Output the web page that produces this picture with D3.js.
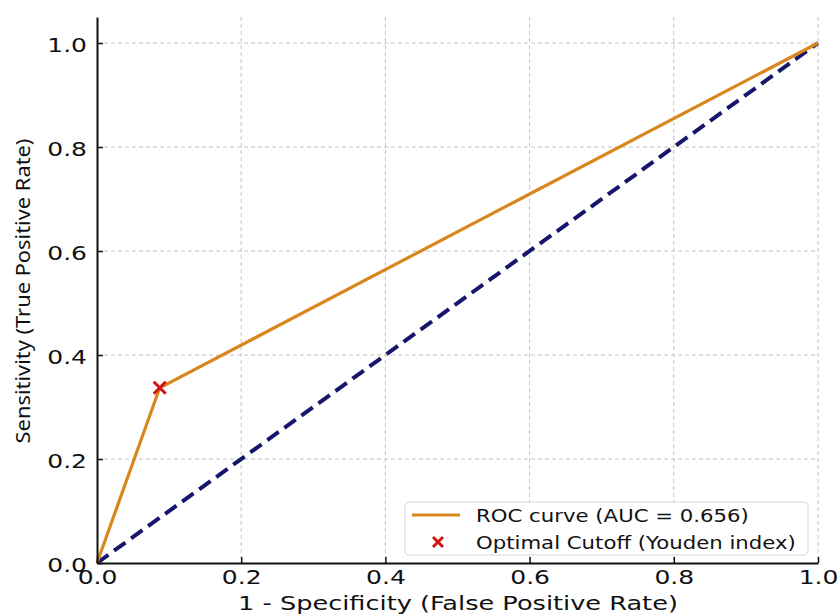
<!DOCTYPE html>
<meta charset="utf-8">
<style>
body {
    margin: 0;
    padding: 0;
    background: #fff;
}
.tick text {
    font-family: "DejaVu Sans", sans-serif;
    font-size: 20px;
    fill: #111;
}
.grid line {
    stroke: #c4c4c4;
    stroke-width: 1;
    stroke-dasharray: 4,3;
}
</style>
<body>
<svg width="840" height="615"></svg>
<script src="https://cdn.jsdelivr.net/npm/d3@7"></script>
<script>
// ROC points
var fpr = [0.0, 0.087, 1.0];
var tpr = [0.0, 0.337, 1.0];
var chance = [0, 1];
var cutoff = {x: 0.087, y: 0.337};
var ticks = [0.0, 0.2, 0.4, 0.6, 0.8, 1.0];
var legendLabels = ["ROC curve (AUC = 0.656)", "Optimal Cutoff (Youden index)"];

var ORANGE = "#d9871c",
    NAVY = "#16166c",
    RED = "#d01515";

var svg = d3.select("svg");
var mLeft = 97, mRight = 818, mTop = 17, mBottom = 563;

var x = d3.scaleLinear().domain([0, 1]).range([mLeft, mRight]);
var y = d3.scaleLinear().domain([0, 1.05]).range([mBottom, mTop]);

// the source picture is stretched sideways, so widen the texts to match
function stretch(sel, factor) {
    sel.each(function() {
        var w = this.getComputedTextLength();
        d3.select(this)
            .attr("textLength", w * factor)
            .attr("lengthAdjust", "spacingAndGlyphs");
    });
}

// grid
var grid = svg.append("g").attr("class", "grid");
grid.selectAll("line.v").data(ticks.slice(1)).enter().append("line")
    .attr("class", "v")
    .attr("x1", d => x(d)).attr("x2", d => x(d))
    .attr("y1", mTop).attr("y2", mBottom);
grid.selectAll("line.h").data(ticks.slice(1)).enter().append("line")
    .attr("class", "h")
    .attr("x1", mLeft).attr("x2", mRight)
    .attr("y1", d => y(d)).attr("y2", d => y(d));

// chance diagonal
svg.append("line")
    .attr("x1", x(chance[0])).attr("y1", y(chance[0]))
    .attr("x2", x(chance[1])).attr("y2", y(chance[1]))
    .attr("stroke", NAVY)
    .attr("stroke-width", 4)
    .attr("stroke-dasharray", "14,7");

// roc curve
var line = d3.line().x(d => x(d[0])).y(d => y(d[1]));
svg.append("path")
    .datum(fpr.map((f, i) => [f, tpr[i]]))
    .attr("d", line)
    .attr("fill", "none")
    .attr("stroke", ORANGE)
    .attr("stroke-width", 3.2);

function cross(g, cx, cy, s) {
    g.append("path")
        .attr("d", "M" + (cx - s) + "," + (cy - s) + "L" + (cx + s) + "," + (cy + s) +
                   "M" + (cx - s) + "," + (cy + s) + "L" + (cx + s) + "," + (cy - s))
        .attr("stroke", RED)
        .attr("stroke-width", 3);
}
cross(svg, x(cutoff.x), y(cutoff.y), 6);

// axes (ticks point inward)
var xAxis = svg.append("g")
    .attr("transform", "translate(0," + mBottom + ")")
    .call(d3.axisBottom(x).tickValues(ticks).tickFormat(d3.format(".1f"))
        .tickSizeInner(-6).tickSizeOuter(0).tickPadding(7));
var yAxis = svg.append("g")
    .attr("transform", "translate(" + mLeft + ",0)")
    .call(d3.axisLeft(y).tickValues(ticks).tickFormat(d3.format(".1f"))
        .tickSizeInner(-6).tickSizeOuter(0).tickPadding(10));
svg.selectAll(".domain").attr("stroke", "#111").attr("stroke-width", 2);
svg.selectAll(".tick line").attr("stroke", "#111").attr("stroke-width", 1.5);
stretch(svg.selectAll(".tick text"), 1.25);
yAxis.selectAll(".tick text").attr("dy", "0.4em");

// axis labels
var xLabel = svg.append("text")
    .attr("x", 458)
    .attr("y", 610)
    .attr("text-anchor", "middle")
    .style("font-family", "DejaVu Sans, sans-serif")
    .style("font-size", "20px")
    .attr("fill", "#111")
    .text("1 - Specificity (False Positive Rate)");
stretch(xLabel, 1.28);

var yLabel = svg.append("text")
    .attr("transform", "translate(30,291) rotate(-90)")
    .attr("text-anchor", "middle")
    .style("font-family", "Noto Sans, sans-serif")
    .style("font-size", "19px")
    .attr("fill", "#111")
    .text("Sensitivity (True Positive Rate)");
stretch(yLabel, 1.15);

// legend
var lg = svg.append("g");
lg.append("rect")
    .attr("x", 405).attr("y", 502)
    .attr("width", 403).attr("height", 53)
    .attr("rx", 4)
    .attr("fill", "#fff").attr("fill-opacity", 0.85)
    .attr("stroke", "#d6d6d6").attr("stroke-width", 1);
lg.append("line")
    .attr("x1", 412).attr("x2", 460)
    .attr("y1", 515).attr("y2", 515)
    .attr("stroke", ORANGE).attr("stroke-width", 3.2);
cross(lg, 438, 542, 5);
var lgText = lg.selectAll("text").data(legendLabels).enter().append("text")
    .attr("x", 476)
    .attr("y", (d, i) => 522 + i * 27)
    .style("font-family", "DejaVu Sans, sans-serif")
    .style("font-size", "18px")
    .attr("fill", "#111")
    .text(d => d);
stretch(lgText, 1.18);
</script>
</body>
